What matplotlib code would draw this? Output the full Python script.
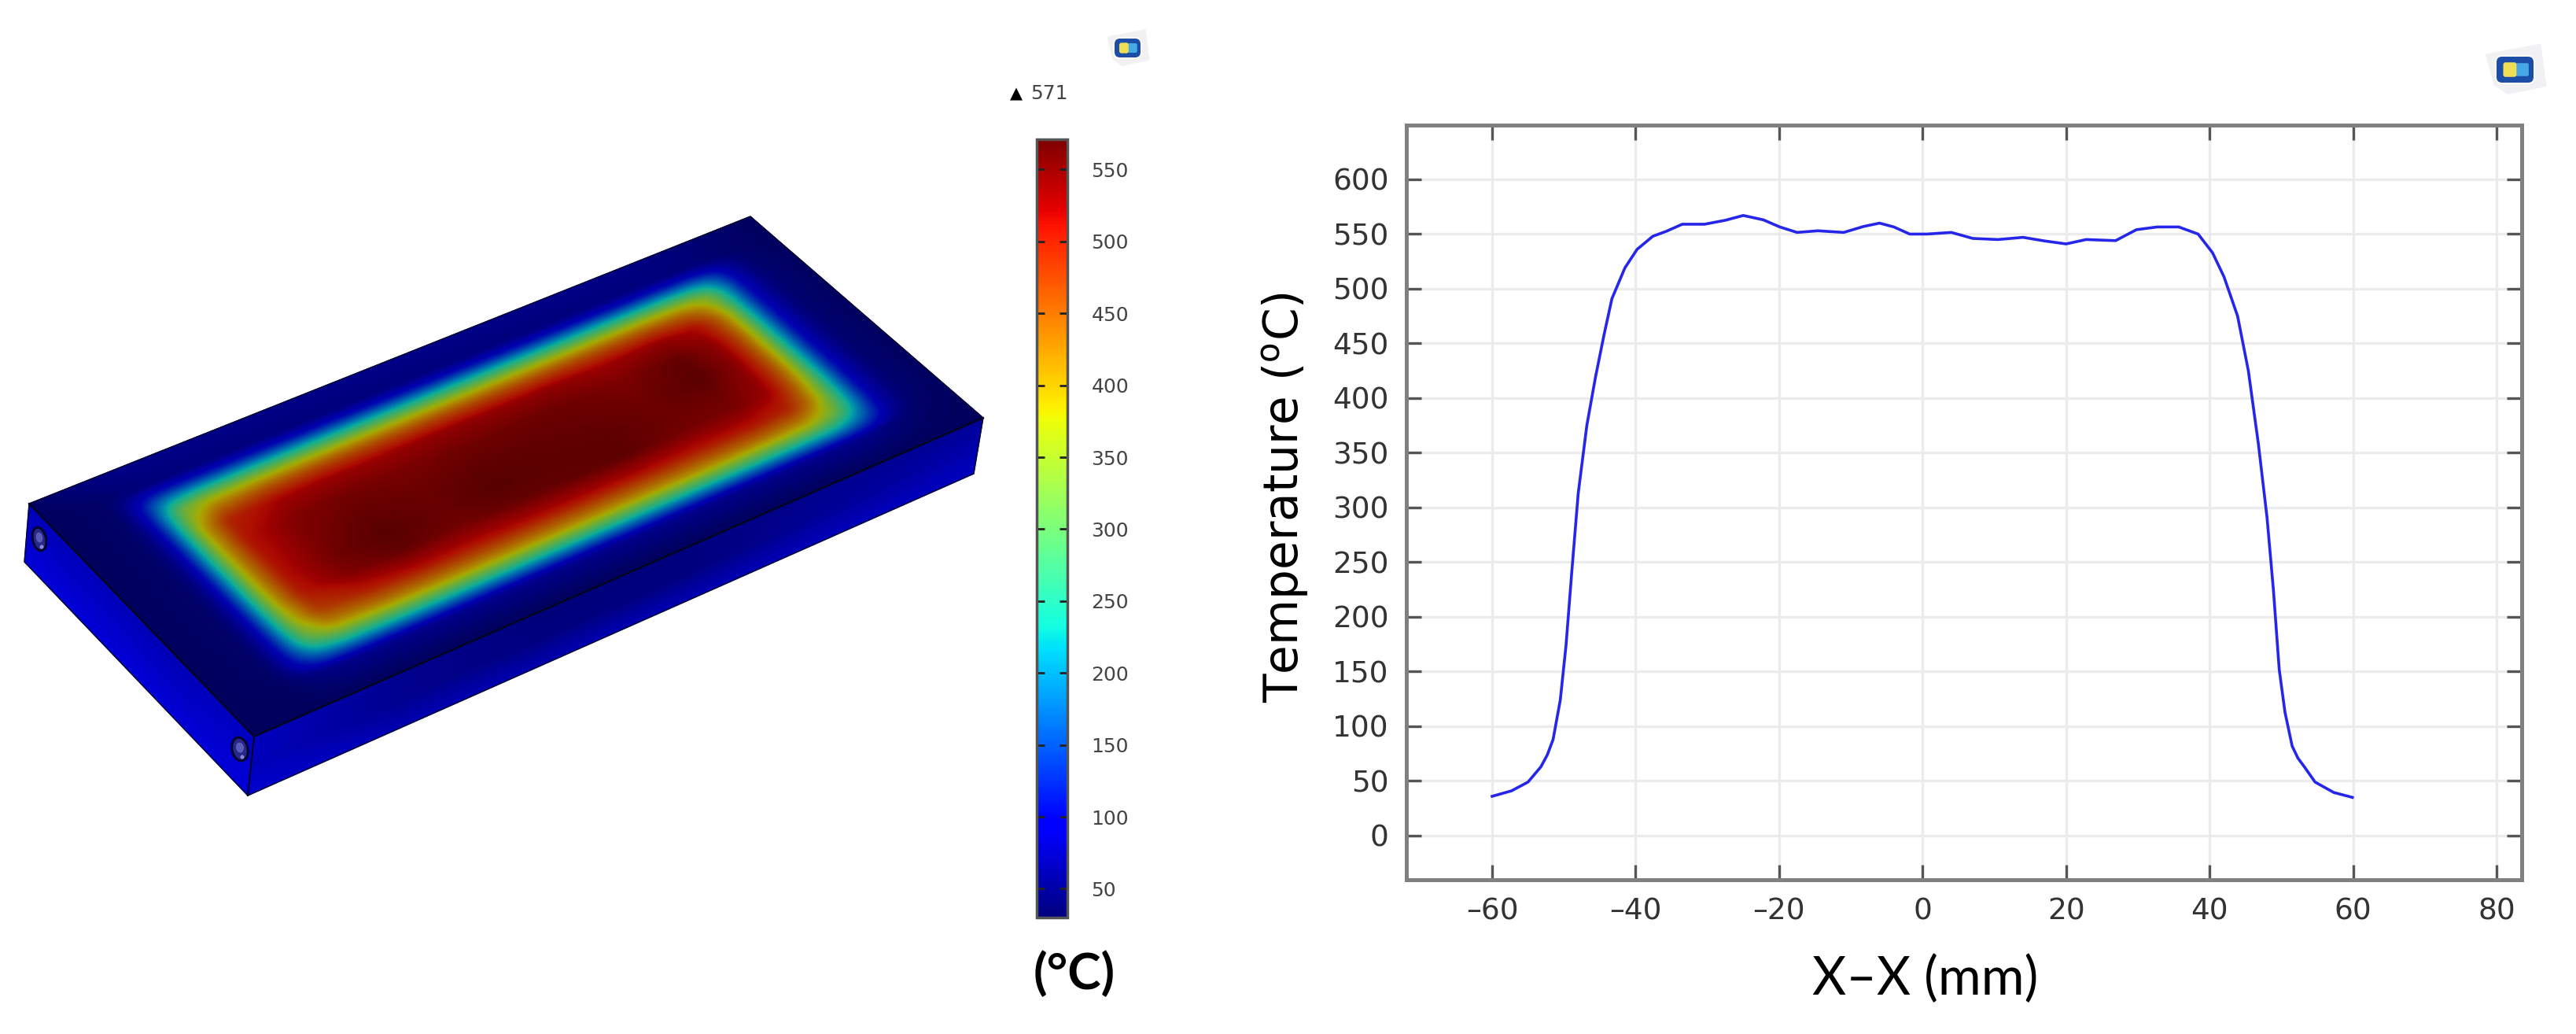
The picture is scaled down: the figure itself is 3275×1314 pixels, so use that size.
import numpy as np
import matplotlib
matplotlib.use("Agg")
import matplotlib.pyplot as plt
from matplotlib.colors import ListedColormap, Normalize
from matplotlib.cm import ScalarMappable
from matplotlib.patches import Polygon, Ellipse, FancyBboxPatch

plt.rcParams['mathtext.default'] = 'regular'

# ---------- line profile (right panel) ----------
x_mm = [-60, -57.3, -55, -53.2, -52.3, -51.5, -50.5, -49.7, -48.9, -48, -46.8, -45.6, -44.4, -43.3, -41.5, -39.8,
        -37.6, -35.7, -33.5, -30.4, -27.5, -25, -22.2, -19.9, -17.5, -14.6, -11, -8.2, -6, -4, -1.8, 0.6,
        4, 7, 10.5, 14, 17, 20, 22.8, 26.9, 29.8, 32.7, 35.7, 38.4, 40.4, 42, 43.9, 45.4, 46.8, 48, 48.9,
        49.7, 50.5, 51.5, 52.3, 53.2, 54.7, 57.3, 59.9]
temp_c = [36, 41, 49, 63, 74, 88, 124, 174, 241, 313, 375, 419, 458, 491, 519, 536,
          548, 552.6, 559, 559, 562.6, 567, 563, 556.5, 551.5, 553, 551.5, 557, 560, 556.5, 550, 550,
          551.5, 546, 545, 547, 543.7, 541, 545, 544, 554, 556.5, 556.5, 550, 533, 511, 475, 425, 358, 291, 224,
          152, 113, 82, 71, 63, 49, 39.5, 35]
x_ticks = [-60, -40, -20, 0, 20, 40, 60, 80]
x_tick_labels = ['–60', '–40', '–20', '0', '20', '40', '60', '80']
y_ticks = [0, 50, 100, 150, 200, 250, 300, 350, 400, 450, 500, 550, 600]

# ---------- colour scale ----------
t_min, t_max = 30, 571
cbar_ticks = [50, 100, 150, 200, 250, 300, 350, 400, 450, 500, 550]

# ---------- temperature ----------
face_s = [0, .075, .10, .125, .145, .18, .25, .32, .40, .47, .55, .63, .70, .78, .83, .855, .875, .895, .92, .95, 1]
face_t = [0, .09, .125, .165, .21, .25, .30, .38, .47, .55, .62, .70, .75, .78, .82, .855, .89, 1]
face_temp = [
 [40, 60, 62, 65, 65, 65, 65, 65, 65, 65, 65, 65, 65, 65, 62, 60, 58, 55, 50, 45, 38],
 [35, 42, 50, 52, 54, 55, 55, 55, 55, 55, 55, 55, 55, 55, 55, 54, 54, 52, 48, 42, 36],
 [35, 42, 75, 100, 110, 112, 112, 112, 112, 112, 112, 112, 112, 112, 112, 110, 108, 98, 72, 45, 36],
 [35, 42, 88, 175, 210, 225, 230, 232, 232, 232, 232, 232, 232, 232, 230, 222, 210, 175, 92, 48, 36],
 [35, 42, 90, 220, 320, 365, 375, 378, 378, 378, 378, 378, 378, 378, 372, 355, 315, 220, 98, 50, 36],
 [35, 42, 90, 230, 350, 430, 455, 462, 462, 462, 462, 462, 462, 462, 450, 415, 345, 230, 100, 50, 36],
 [35, 42, 90, 235, 380, 490, 518, 525, 525, 530, 530, 530, 522, 530, 510, 455, 375, 235, 100, 50, 36],
 [35, 42, 90, 240, 385, 505, 542, 552, 548, 552, 555, 555, 545, 562, 530, 470, 385, 240, 100, 50, 36],
 [36, 42, 90, 240, 385, 505, 548, 562, 556, 565, 564, 560, 553, 570, 535, 470, 385, 240, 100, 50, 36],
 [36, 42, 90, 240, 385, 505, 552, 571, 558, 571, 566, 566, 556, 556, 530, 468, 385, 240, 100, 50, 36],
 [36, 42, 90, 238, 380, 500, 545, 563, 552, 560, 563, 566, 552, 547, 522, 460, 375, 238, 100, 50, 36],
 [35, 42, 90, 230, 360, 468, 498, 510, 508, 510, 510, 510, 506, 505, 490, 435, 350, 230, 98, 50, 36],
 [35, 42, 88, 218, 325, 415, 435, 440, 440, 440, 440, 440, 440, 438, 425, 385, 320, 218, 95, 50, 36],
 [35, 42, 88, 205, 295, 358, 378, 385, 385, 385, 385, 385, 385, 382, 372, 340, 292, 205, 92, 50, 36],
 [35, 41, 85, 165, 218, 250, 262, 265, 265, 265, 265, 265, 265, 265, 258, 248, 218, 165, 85, 48, 36],
 [35, 40, 72, 118, 142, 155, 160, 160, 160, 160, 160, 160, 160, 160, 160, 155, 142, 118, 72, 45, 36],
 [35, 38, 50, 60, 66, 68, 68, 68, 68, 68, 68, 68, 68, 68, 68, 68, 66, 60, 50, 42, 35],
 [34, 34, 34, 34, 34, 34, 34, 34, 34, 34, 34, 34, 34, 34, 34, 34, 34, 34, 34, 34, 34],
]
# side faces: edge-to-edge temperatures (top edge, middle, bottom edge)
front_temp = [[72, 45, 36, 38, 45, 50],
              [70, 45, 38, 38, 50, 60],
              [80, 65, 62, 65, 70, 72]]
left_temp = [[68, 66, 64, 72],
             [76, 76, 74, 80],
             [84, 84, 84, 84]]

W, H = 3275, 1314
fig = plt.figure(figsize=(W / 100, H / 100), dpi=100, facecolor='white')


def px_axes(l, t, r, b, **kw):
    return fig.add_axes([l / W, 1 - b / H, (r - l) / W, (b - t) / H], **kw)


# ---------- 3-D plate ----------
scene = px_axes(0, 0, W, H)
scene.set_xlim(0, W)
scene.set_ylim(H, 0)
scene.axis('off')

A, B, C, D = map(np.array, [(37, 640), (954, 275), (1250, 531), (323, 936)])
A2, C2, D2 = map(np.array, [(31, 714), (1238, 602), (315, 1011)])


def quad(P00, P10, P11, P01, u, v):
    """map normalised u,v on a four-corner face onto the figure"""
    u, v = np.meshgrid(u, v)
    u, v = u[..., None], v[..., None]
    p = (1 - v) * ((1 - u) * P00 + u * P10) + v * ((1 - u) * P01 + u * P11)
    return p[..., 0], p[..., 1]


def soften(field, n, axis):
    """moving average that removes the creases between the read values"""
    pad = [(0, 0), (0, 0)]
    pad[axis] = (n // 2, n // 2)
    kernel = np.ones(n) / n
    return np.apply_along_axis(lambda r: np.convolve(r, kernel, mode='valid'), axis, np.pad(field, pad, mode='edge'))


def render_field(su, tv, values, nu=520, nv=260):
    values = np.asarray(values, float)
    u, v = np.linspace(0, 1, nu), np.linspace(0, 1, nv)
    by_u = np.array([np.interp(u, su, row) for row in values])
    fine = np.array([np.interp(v, tv, col) for col in by_u.T]).T
    fine = soften(soften(fine, 11, 1), 7, 0)
    return u, v, fine


norm = Normalize(t_min, t_max)
jet = plt.get_cmap('jet')(np.linspace(0, 1, 256))
lit = jet.copy()
lit[:, :3] *= 0.68
lit_cmap = ListedColormap(lit)
side = jet.copy()
side[:, :3] *= 0.9
side_cmap = ListedColormap(side)

u, v, fine = render_field(face_s, face_t, face_temp)
X, Y = quad(A, B, C, D, u, v)
scene.pcolormesh(X, Y, fine, shading='gouraud', cmap=lit_cmap, norm=norm)

Xf, Yf = quad(D, C, C2, D2, np.linspace(0, 1, 6), np.linspace(0, 1, 3))
scene.pcolormesh(Xf, Yf, np.array(front_temp, float), shading='gouraud', cmap=side_cmap, norm=norm)
Xl, Yl = quad(A, D, D2, A2, np.linspace(0, 1, 4), np.linspace(0, 1, 3))
scene.pcolormesh(Xl, Yl, np.array(left_temp, float), shading='gouraud', cmap=side_cmap, norm=norm)

scene.add_patch(Polygon([A, B, C, C2, D2, A2], closed=True, fc='none', ec='#08082a', lw=1.0))
scene.plot(*zip(A, D, C), color='#050518', lw=1.6)
scene.plot(*zip(D, D2), color='#050518', lw=1.4)

for cx, cy, w in [(50, 685, 17), (305, 952, 20)]:
    scene.add_patch(Ellipse((cx, cy), w, 30, angle=-12, fc='#28288c', ec='#06062e', lw=2.2))
    scene.add_patch(Ellipse((cx, cy - 2), w * 0.5, 13, angle=-12, fc='#5a5ab8', ec='none'))
    scene.add_patch(Ellipse((cx + 3, cy + 10), 5, 5, fc='#8a8ad0', ec='none'))

# little view thumbnails
for l, t, w, h in [(1417, 49, 33, 24), (3174, 72, 47, 33)]:
    scene.add_patch(Polygon([(l - w * 0.3, t - h * 0.1), (l + w * 1.2, t - h * 0.5), (l + w * 1.35, t + h * 1.15),
                             (l + w * 0.3, t + h * 1.45), (l - h * 0.1, t + h * 1.1)], closed=True,
                            fc='#f1f1f3', ec='none'))
    scene.add_patch(FancyBboxPatch((l - 2, t - 2), w + 4, h + 4, boxstyle='round,pad=0,rounding_size=8',
                                   fc='#fbf9f2', ec='none'))
    scene.add_patch(FancyBboxPatch((l, t), w, h, boxstyle='round,pad=0,rounding_size=7',
                                   fc='#1c4ea8', ec='none'))
    scene.add_patch(FancyBboxPatch((l + w * 0.45, t + h * 0.25), w * 0.42, h * 0.5,
                                   boxstyle='round,pad=0,rounding_size=2', fc='#46a8e4', ec='none'))
    scene.add_patch(FancyBboxPatch((l + w * 0.18, t + h * 0.22), w * 0.36, h * 0.56,
                                   boxstyle='round,pad=0,rounding_size=3', fc='#f0df55', ec='none'))

# ---------- colour bar ----------
cax = px_axes(1318, 177, 1357, 1166)
cb = fig.colorbar(ScalarMappable(norm=Normalize(t_min, t_max), cmap='jet'), cax=cax, ticks=cbar_ticks)
cb.outline.set_edgecolor('#555555')
cb.outline.set_linewidth(2.5)
cax.tick_params(axis='y', which='major', direction='in', left=True, right=True, length=7, width=2,
                color='#222222', labelsize=18, labelcolor='#444444', pad=22)
scene.text(1310, 119, '571', fontsize=18, color='#444444', va='center', ha='left')
scene.text(1292, 119, '▲', fontsize=15, color='black', va='center', ha='center')
scene.text(1366, 1237, '(°C)', fontsize=46, fontweight='bold', family='Lato', color='black',
           va='center', ha='center')

# ---------- line plot ----------
ax = px_axes(1788, 159, 3206, 1118)
ax.plot(x_mm, temp_c, color='#2626ea', lw=2.6, solid_joinstyle='round', zorder=3)
ax.set_xlim(-71.95, 83.5)
ax.set_ylim(-40.3, 649.6)
ax.set_xticks(x_ticks, x_tick_labels)
ax.set_yticks(y_ticks)
ax.grid(True, color='#ececec', lw=2.4, zorder=0)
ax.set_axisbelow(True)
ax.tick_params(axis='both', which='major', direction='in', top=True, right=True, length=14, width=2.4,
               color='#555555', labelsize=27, labelcolor='#333333', pad=16)
for sp in ax.spines.values():
    sp.set_color('#808080')
    sp.set_linewidth(3.6)
ax.set_ylabel('Temperature ($^{o}$C)', fontsize=43, color='black')
ax.yaxis.set_label_coords((1666 - 1788) / 1418, (1118 - 632) / 959)
ax.set_xlabel('X–X (mm)', fontsize=48, family='Lato', color='black')
ax.xaxis.set_label_coords((2448 - 1788) / 1418, (1118 - 1245) / 959)
ax.xaxis.label.set_va('center')

fig.savefig('out.png', dpi=100, facecolor='white')
